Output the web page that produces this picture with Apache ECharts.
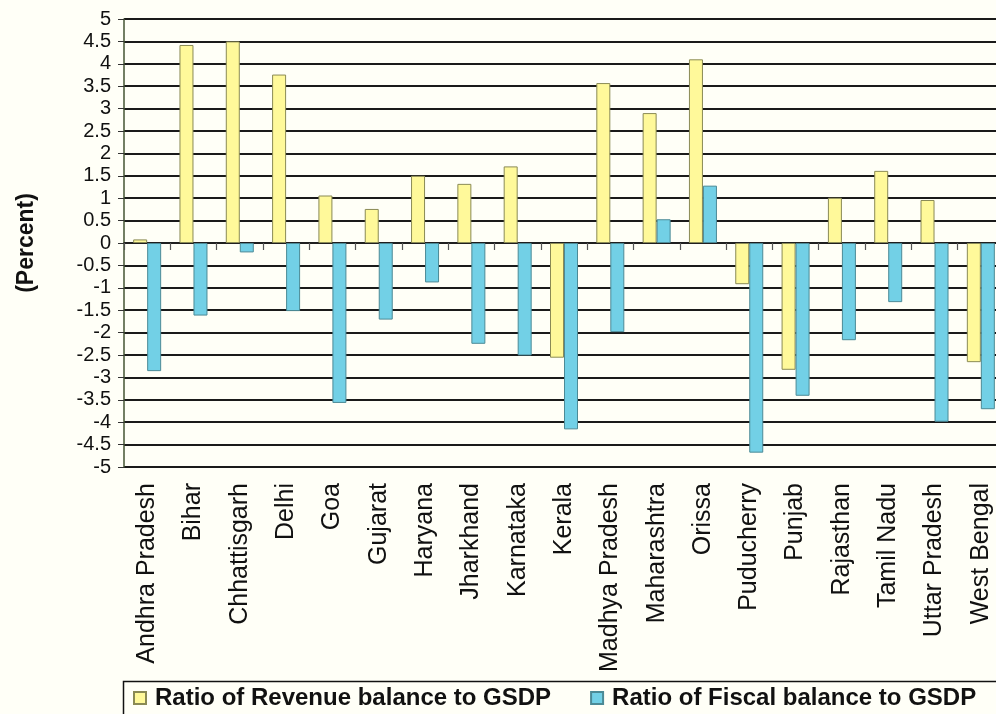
<!DOCTYPE html>
<html>
<head>
<meta charset="utf-8">
<style>
    html, body {margin: 0; padding: 0; background: #fffff7;}
    #chart {width: 996px; height: 714px;}
</style>
<script src="https://cdn.jsdelivr.net/npm/echarts@6/dist/echarts.min.js"></script>
</head>
<body>
<div id="chart"></div>
<script>
    var states = ['Andhra Pradesh', 'Bihar', 'Chhattisgarh', 'Delhi', 'Goa', 'Gujarat', 'Haryana', 'Jharkhand',
        'Karnataka', 'Kerala', 'Madhya Pradesh', 'Maharashtra', 'Orissa', 'Puducherry', 'Punjab', 'Rajasthan',
        'Tamil Nadu', 'Uttar Pradesh', 'West Bengal'];
    var revenueBalance = [0.08, 4.42, 4.5, 3.76, 1.06, 0.76, 1.5, 1.32, 1.71, -2.56, 3.57, 2.9, 4.1, -0.92, -2.83, 1.01, 1.61, 0.96, -2.66];
    var fiscalBalance = [-2.86, -1.62, -0.21, -1.52, -3.57, -1.71, -0.88, -2.25, -2.51, -4.16, -1.99, 0.53, 1.28, -4.68, -3.41, -2.17, -1.32, -3.99, -3.71];
    var seriesNames = ['Ratio of Revenue balance to GSDP', 'Ratio of Fiscal balance to GSDP'];

    var font = "'Liberation Sans', Arial, sans-serif";
    var myChart = echarts.init(document.getElementById('chart'));
    var option = {
        backgroundColor: '#fffff7',
        animation: false,
        // the scan cuts the plot off on the right, so let the grid run past the edge
        grid: {left: 124, top: 19, width: 880, bottom: 247, outerBoundsMode: 'none', containLabel: false},
        graphic: [{
            type: 'rect',
            left: 121,
            top: 679,
            shape: {width: 900, height: 60},
            style: {fill: 'none', stroke: '#111', lineWidth: 1.5}
        }],
        legend: {
            data: seriesNames,
            left: 121,
            top: 679,
            width: 900,
            padding: [7, 0, 0, 12],
            icon: 'rect',
            itemWidth: 12,
            itemHeight: 12,
            itemGap: 39,
            textStyle: {fontFamily: font, fontSize: 24, fontWeight: 'bold', color: '#111', padding: [0, 0, 0, 4]}
        },
        xAxis: [
            {
                type: 'category',
                data: states,
                position: 'bottom',
                axisLine: {show: false},
                axisTick: {show: false},
                axisLabel: {
                    rotate: 90,
                    margin: 16,
                    interval: 0,
                    fontFamily: font,
                    fontSize: 25,
                    color: '#111'
                }
            },
            {
                // zero line with the small boundary ticks hanging below it
                type: 'category',
                data: states,
                position: 'bottom',
                axisLine: {onZero: true, onZeroAxisIndex: 0, lineStyle: {color: '#222', width: 1.5}},
                axisTick: {show: true, interval: 0, length: 7, lineStyle: {color: '#555', width: 1.2}},
                axisLabel: {show: false, interval: 0}
            }
        ],
        yAxis: {
            type: 'value',
            min: -5,
            max: 5,
            interval: 0.5,
            name: '(Percent)',
            nameLocation: 'middle',
            nameGap: 86,
            nameTextStyle: {fontFamily: font, fontSize: 23, fontWeight: 'bold', color: '#111'},
            axisLine: {show: true, lineStyle: {color: '#445533', width: 1.5}},
            axisTick: {show: true, length: 6, lineStyle: {color: '#333'}},
            axisLabel: {fontFamily: font, fontSize: 20, color: '#111', margin: 13},
            splitLine: {lineStyle: {color: '#1a1a1a', width: 1.8}}
        },
        series: [
            {
                name: seriesNames[0],
                type: 'bar',
                xAxisIndex: 0,
                data: revenueBalance,
                barWidth: 14,
                barGap: '0%',
                itemStyle: {color: '#fff99a', borderColor: '#8a8a55', borderWidth: 1}
            },
            {
                name: seriesNames[1],
                type: 'bar',
                xAxisIndex: 0,
                data: fiscalBalance,
                barWidth: 14,
                barGap: '0%',
                itemStyle: {color: '#72d0e6', borderColor: '#4c8a96', borderWidth: 1}
            }
        ]
    };
    myChart.setOption(option);
</script>
</body>
</html>
